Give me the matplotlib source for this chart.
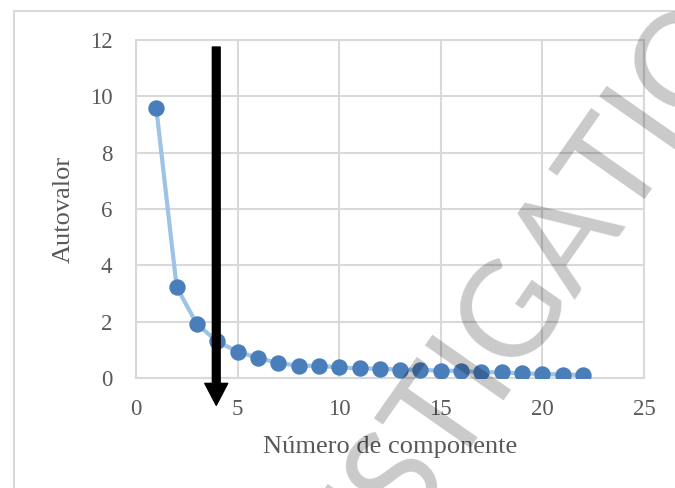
import matplotlib
matplotlib.use("Agg")
import matplotlib.pyplot as plt
from matplotlib.lines import Line2D

# ---- data ----
componentes = list(range(1, 23))
autovalores = [9.57, 3.23, 1.91, 1.30, 0.93, 0.72, 0.53, 0.44, 0.43, 0.38,
               0.34, 0.33, 0.30, 0.29, 0.26, 0.25, 0.21, 0.20, 0.16, 0.15,
               0.12, 0.11]
x_ticks = [0, 5, 10, 15, 20, 25]
y_ticks = [0, 2, 4, 6, 8, 10, 12]
x_title = "Número de componente"
y_title = "Autovalor"
arrow_x = 3.95
arrow_from = 11.75
arrow_to = -0.97
watermark = "INVESTIGATION"

W, H = 675, 488
fig = plt.figure(figsize=(W / 100, H / 100), dpi=100)
fig.patch.set_facecolor("white")

# plot area in pixels
L, R, T, B = 136, 644, 40, 378
ax = fig.add_axes([L / W, 1 - B / H, (R - L) / W, (B - T) / H])

grid_c = "#d9d9d9"
text_c = "#595959"
serif = ["Liberation Serif", "DejaVu Serif"]

ax.plot(componentes, autovalores, color="#9dc3e6", lw=3, zorder=3,
        solid_capstyle="round")
ax.plot(componentes, autovalores, linestyle="none", marker="o",
        markersize=10.8, color="#4a7ebb", markeredgecolor="#4a7ebb", zorder=4)

ax.set_xlim(0, 25)
ax.set_ylim(0, 12)
ax.set_xticks(x_ticks)
ax.set_yticks(y_ticks)
ax.grid(True, color=grid_c, lw=1.5, zorder=0)
ax.set_axisbelow(True)
for s in ax.spines.values():
    s.set_color(grid_c)
    s.set_linewidth(1.5)
ax.tick_params(length=0, labelsize=16.5, labelcolor=text_c)
for lab in ax.get_xticklabels() + ax.get_yticklabels():
    lab.set_family(serif)
ax.tick_params(axis="y", pad=17)
ax.tick_params(axis="x", pad=15)

ax.set_xlabel(x_title, fontsize=19, color=text_c, family=serif, va="center")
ax.xaxis.set_label_coords(0.5, (B - 447) / (B - T))
ax.set_ylabel(y_title, fontsize=19, color=text_c, family=serif, va="center")
ax.yaxis.set_label_coords((64 - L) / (R - L), 0.5)

# black arrow
ax.annotate("", xy=(arrow_x, arrow_to), xytext=(arrow_x, arrow_from),
            xycoords="data", annotation_clip=False,
            arrowprops=dict(arrowstyle="simple,head_length=15.8,head_width=16.5,tail_width=5.6",
                            mutation_scale=1, color="black", shrinkA=0, shrinkB=0),
            zorder=6)

# outer chart border (partially visible)
fig.add_artist(Line2D([14 / W, 14 / W], [0, 1 - 11 / H], color=grid_c, lw=1.5,
                      transform=fig.transFigure))
fig.add_artist(Line2D([14 / W, 1.0], [1 - 11 / H, 1 - 11 / H], color=grid_c, lw=1.5,
                      transform=fig.transFigure))

# watermark
fig.text(488 / W, 1 - 340 / H, watermark, fontsize=96, family=["Lato", "DejaVu Sans"],
         color="black", alpha=0.21, rotation=55, rotation_mode="anchor",
         ha="center", va="center", zorder=10)

fig.savefig("out.png", dpi=100, facecolor="white")
